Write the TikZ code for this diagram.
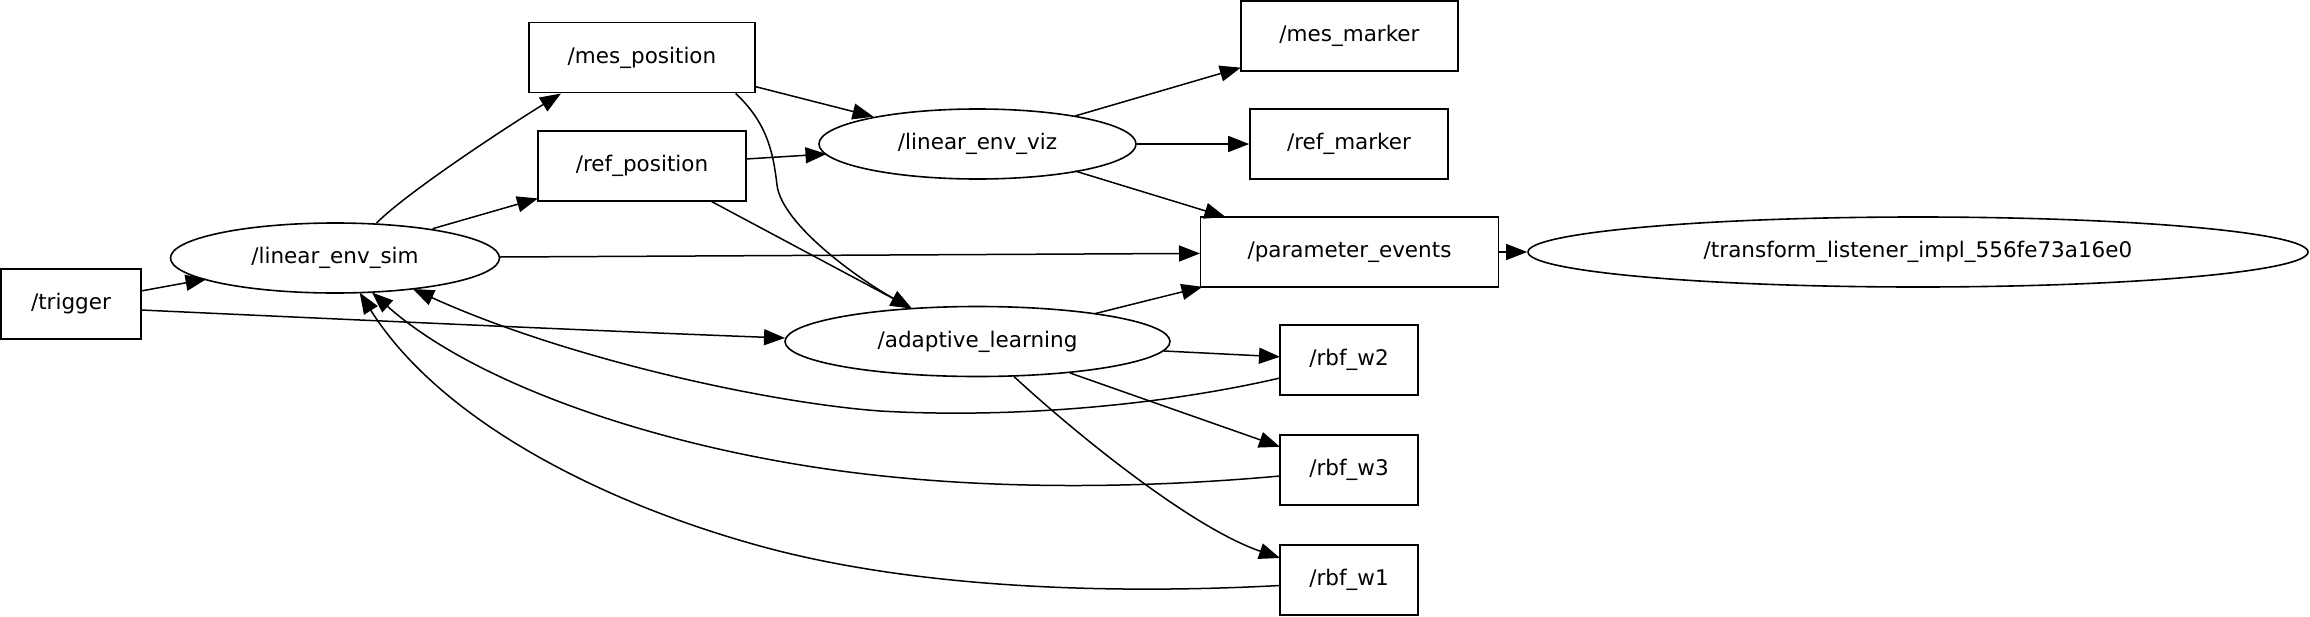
\documentclass[tikz,border=0pt]{standalone}
\usepackage{fontspec}
\setmainfont{DejaVu Sans}
\usetikzlibrary{shapes.geometric,arrows.meta,calc}
\begin{document}
\begin{tikzpicture}[x=1pt,y=-1pt,
  every node/.style={font=\fontsize{21.5}{26}\selectfont, inner sep=0pt, line width=1.6pt},
  topic/.style={draw, rectangle, minimum height=70pt},
  rosnode/.style={draw, ellipse, minimum height=70pt},
  edge/.style={line width=1.5pt, -{Triangle[length=21pt,width=16pt]}},
]
\useasboundingbox (0,0) rectangle (2310,616);
% nodes
\node[topic, minimum width=140pt] (trigger) at (71,304) {/trigger};
\node[rosnode, minimum width=329pt] (lsim) at (335,258) {/linear\_env\_sim};
\node[topic, minimum width=226pt] (mespos) at (642,57.5) {/mes\_position};
\node[topic, minimum width=208pt] (refpos) at (642,166) {/ref\_position};
\node[rosnode, minimum width=317pt] (lviz) at (977.5,144) {/linear\_env\_viz};
\node[topic, minimum width=217pt] (mesmark) at (1349.5,36) {/mes\_marker};
\node[topic, minimum width=198pt] (refmark) at (1349,144) {/ref\_marker};
\node[topic, minimum width=298pt] (params) at (1349.5,252) {/parameter\_events};
\node[rosnode, minimum width=385pt] (adapt) at (977.5,341.5) {/adaptive\_learning};
\node[topic, minimum width=138pt] (w2) at (1349,360) {/rbf\_w2};
\node[topic, minimum width=138pt] (w3) at (1349,470) {/rbf\_w3};
\node[topic, minimum width=138pt] (w1) at (1349,580) {/rbf\_w1};
\node[rosnode, minimum width=780pt] (tf) at (1918,252) {/transform\_listener\_impl\_556fe73a16e0};
% edges
\draw[edge] ($(trigger.center)+(70,-13)$) -- ($(lsim.center)+(-128.4,21)$);
\draw[edge] ($(trigger.center)+(70,6)$) .. controls (400,322) and (650,333) .. ($(adapt.center)+(-192.5,-3.5)$);
\draw[edge] ($(lsim.center)+(41.5,-35)$) .. controls (410,190) and (510,125) .. ($(mespos.center)+(-81,36)$);
\draw[edge] ($(lsim.center)+(97.6,-29.3)$) -- ($(refpos.center)+(-104,32.4)$);
\draw[edge] ($(lsim.center)+(165,-1)$) -- ($(params.center)+(-149.5,1.4)$);
\draw[edge] ($(mespos.center)+(113,29)$) -- ($(lviz.center)+(-104,-27.3)$);
\draw[edge] ($(mespos.center)+(93.7,36)$) .. controls (766,122) and (773,150) .. (777,185)
  .. controls (782,225) and (860,280) .. ($(adapt.center)+(-65.8,-33.1)$);
\draw[edge] ($(refpos.center)+(104,-7)$) -- ($(lviz.center)+(-151,10)$);
\draw[edge] ($(refpos.center)+(69.7,35.6)$) -- ($(adapt.center)+(-65.8,-33.1)$);
\draw[edge] ($(lviz.center)+(97.5,-28)$) -- ($(mesmark.center)+(-108.7,31.6)$);
\draw[edge] (lviz.east) -- (refmark.west);
\draw[edge] ($(lviz.center)+(97.5,27)$) -- ($(params.center)+(-124,-35)$);
\draw[edge] ($(adapt.center)+(117.5,-27.9)$) -- ($(params.center)+(-147,34.8)$);
\draw[edge] ($(adapt.center)+(186.5,9.5)$) -- ($(w2.center)+(-69,-3.2)$);
\draw[edge] ($(adapt.center)+(92.5,31.5)$) -- ($(w3.center)+(-69,-23.2)$);
\draw[edge] ($(adapt.center)+(36.3,34.9)$) .. controls (1074,432) and (1190,527) .. ($(w1.center)+(-69,-22)$);
\draw[edge] (params.east) -- (tf.west);
\draw[edge] ($(w2.center)+(-69,18)$) .. controls (1150,408) and (1000,418) .. (880,411)
  .. controls (760,402) and (560,356) .. ($(lsim.center)+(78,31)$);
\draw[edge] ($(w3.center)+(-69,6)$) .. controls (1180,485) and (1000,495) .. (820,468)
  .. controls (640,441) and (470,380) .. ($(lsim.center)+(37,34.5)$);
\draw[edge] ($(w1.center)+(-69,5.5)$) .. controls (1120,594) and (920,590) .. (760,546)
  .. controls (600,502) and (440,420) .. ($(lsim.center)+(24.7,34.7)$);
\end{tikzpicture}
\end{document}
